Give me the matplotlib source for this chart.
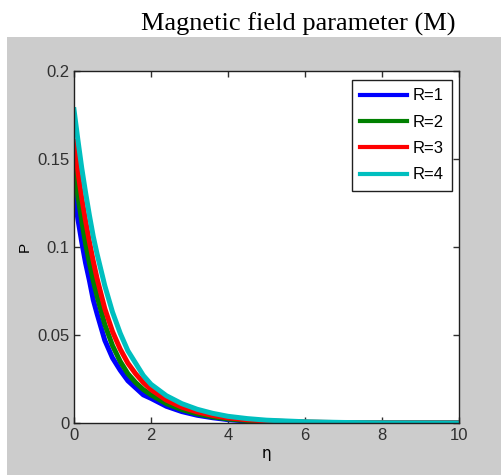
import matplotlib.pyplot as plt
from matplotlib.patches import Rectangle

eta = [0, 0.1, 0.2, 0.3, 0.4, 0.5, 0.6, 0.8, 1.0, 1.2, 1.4, 1.6, 1.8, 2.0, 2.4, 2.8,
       3.2, 3.6, 4.0, 4.5, 5.0, 6.0, 7.0, 8.0, 10.0]

p_r1 = [0.131, 0.116, 0.103, 0.091, 0.081, 0.070, 0.062, 0.047, 0.037, 0.030, 0.024,
        0.020, 0.016, 0.014, 0.0095, 0.0065, 0.0044, 0.003, 0.0019, 0.0011, 0.0007,
        0.0003, 0.0001, 0.0, 0.0]
p_r2 = [0.145, 0.129, 0.115, 0.102, 0.091, 0.081, 0.072, 0.056, 0.044, 0.035, 0.028,
        0.023, 0.019, 0.016, 0.011, 0.0076, 0.0052, 0.0035, 0.0023, 0.0014, 0.0009,
        0.0004, 0.00015, 0.0, 0.0]
p_r3 = [0.160, 0.143, 0.128, 0.115, 0.103, 0.092, 0.082, 0.065, 0.052, 0.042, 0.034,
        0.028, 0.023, 0.019, 0.013, 0.009, 0.0063, 0.0043, 0.0029, 0.0018, 0.0012,
        0.0005, 0.0002, 0.0001, 0.0]
p_r4 = [0.178, 0.161, 0.145, 0.131, 0.118, 0.106, 0.096, 0.078, 0.063, 0.051, 0.041,
        0.034, 0.027, 0.022, 0.0155, 0.011, 0.0078, 0.0055, 0.0038, 0.0025, 0.0016,
        0.0007, 0.0003, 0.0001, 0.0]

labels = ["R=1", "R=2", "R=3", "R=4"]
colors = ["#0000ff", "#008000", "#ff0000", "#00bfbf"]

tick_font = "Liberation Sans"

fig = plt.figure(figsize=(5.02, 4.75), dpi=100)
# grey MATLAB-style figure background below the white strip holding the title
fig.patches.append(Rectangle((7 / 502, 0), 1, (475 - 37) / 475,
                             transform=fig.transFigure, facecolor="#cccccc",
                             edgecolor="none", zorder=-10))

ax = fig.add_axes([74 / 502, 52 / 475, 385 / 502, 352 / 475])
ax.set_facecolor("white")

for p, lab, c in zip([p_r1, p_r2, p_r3, p_r4], labels, colors):
    ax.plot(eta, p, color=c, linewidth=3.6, label=lab, solid_joinstyle="round")

ax.set_xlim(0, 10)
ax.set_ylim(0, 0.2)
ax.set_xticks([0, 2, 4, 6, 8, 10])
ax.set_yticks([0, 0.05, 0.1, 0.15, 0.2])
ax.set_yticklabels(["0", "0.05", "0.1", "0.15", "0.2"])
ax.tick_params(direction="in", length=4, width=1, top=True, right=True,
               labelsize=12, colors="#303030")
for lbl in ax.get_xticklabels() + ax.get_yticklabels():
    lbl.set_family(tick_font)
for s in ax.spines.values():
    s.set_linewidth(1)
    s.set_color("#202020")

ax.set_xlabel("η", fontsize=11, family="DejaVu Sans", labelpad=2)
ax.set_ylabel("P", fontsize=11, family=tick_font, labelpad=4)

leg = ax.legend(loc="upper right", bbox_to_anchor=(0.982, 0.974), borderaxespad=0,
                fancybox=False, edgecolor="#202020", framealpha=1,
                prop={"family": tick_font, "size": 12},
                handlelength=2.8, handletextpad=0.35, labelspacing=0.68, borderpad=0.5)
leg.get_frame().set_linewidth(1)
for h in leg.get_lines():
    h.set_linewidth(3)

fig.text(298 / 502, 1 - 24 / 475, "Magnetic field parameter (M)", ha="center", va="center",
         fontsize=19, family="Liberation Serif")

fig.savefig("out.png", dpi=100)
